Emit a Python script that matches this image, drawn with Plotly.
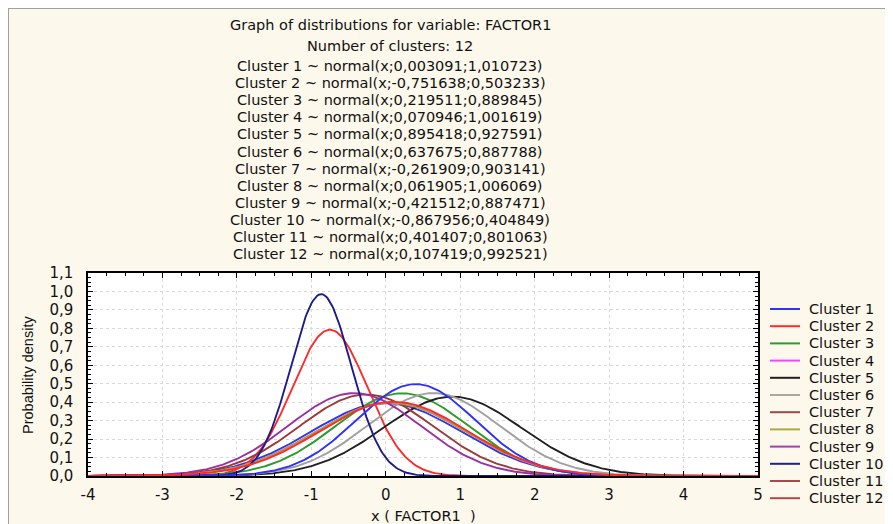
import numpy as np
import plotly.graph_objects as go

# ---- data ----
cluster_names = [f"Cluster {i}" for i in range(1, 13)]
means = [0.003091, -0.751638, 0.219511, 0.070946, 0.895418, 0.637675,
         -0.261909, 0.061905, -0.421512, -0.867956, 0.401407, 0.107419]
sds = [1.010723, 0.503233, 0.889845, 1.001619, 0.927591, 0.887788,
       0.903141, 1.006069, 0.887471, 0.404849, 0.801063, 0.992521]
mean_txt = ["0,003091", "-0,751638", "0,219511", "0,070946", "0,895418", "0,637675",
            "-0,261909", "0,061905", "-0,421512", "-0,867956", "0,401407", "0,107419"]
sd_txt = ["1,010723", "0,503233", "0,889845", "1,001619", "0,927591", "0,887788",
          "0,903141", "1,006069", "0,887471", "0,404849", "0,801063", "0,992521"]
x_ticks = [-4, -3, -2, -1, 0, 1, 2, 3, 4, 5]
x_tick_labels = ["-4", "-3", "-2", "-1", "0", "1", "2", "3", "4", "5"]
y_ticks = [0.0, 0.1, 0.2, 0.3, 0.4, 0.5, 0.6, 0.7, 0.8, 0.9, 1.0, 1.1]
y_tick_labels = ["0,0", "0,1", "0,2", "0,3", "0,4", "0,5", "0,6", "0,7", "0,8", "0,9", "1,0", "1,1"]

# ---- styles ----
legend_colors = ["#3030ff", "#ff2a2a", "#2e9a2e", "#ff40ff", "#202020", "#a8a8a0",
                 "#a04848", "#b0a840", "#a040a8", "#20208c", "#a84848", "#b04848"]
curve_colors = ["#3030ff", "#ff2a2a", "#2e9a2e", "#ff40ff", "#202020", "#a0a0a0",
                "#9a3a3a", "#a8a040", "#9a30a0", "#1c1c88", "#3030ff", "#ff2a2a"]
BG = "#fdf8ec"
TXT = "#111111"
FONT = "DejaVu Sans"

OFF = 8                      # page body margin
W, H = 893 - OFF, 524 - OFF  # figure size
# plot area in page pixels
PL, PR, PT, PB = 88, 758, 273, 476
L, R, T, B = PL - OFF, PR - OFF, PT - OFF, PB - OFF


def px(xp):
    """page x pixel -> paper coordinate"""
    return (xp - OFF - L) / (R - L)


def py(yp):
    """page y pixel -> paper coordinate"""
    return (B - (yp - OFF)) / (B - T)


xs = np.linspace(-4, 5, 451)
fig = go.Figure()
for name, m, s, c in zip(cluster_names, means, sds, curve_colors):
    ys = np.exp(-0.5 * ((xs - m) / s) ** 2) / (s * np.sqrt(2 * np.pi))
    fig.add_trace(go.Scatter(x=xs, y=ys, mode="lines", name=name,
                             line=dict(color=c, width=1.9), showlegend=False,
                             hoverinfo="skip"))

annotations = []
shapes = []

# title block
title_lines = ["Graph of distributions for variable: FACTOR1", "Number of clusters: 12"]
title_y = [25, 46]
for t, yy in zip(title_lines, title_y):
    annotations.append(dict(x=px(390), y=py(yy), xref="paper", yref="paper",
                            text=t, showarrow=False, xanchor="center", yanchor="middle",
                            font=dict(family=FONT, size=14.5, color=TXT)))
for i, (n, mt, st) in enumerate(zip(cluster_names, mean_txt, sd_txt)):
    yy = 66 + i * 17.1
    annotations.append(dict(x=px(390), y=py(yy), xref="paper", yref="paper",
                            text=f"{n} ~ normal(x;{mt};{st})", showarrow=False,
                            xanchor="center", yanchor="middle",
                            font=dict(family=FONT, size=14.5, color=TXT)))

# axis titles
annotations.append(dict(x=px(423), y=py(516), xref="paper", yref="paper",
                        text="x ( FACTOR1  )", showarrow=False, xanchor="center",
                        yanchor="middle", font=dict(family=FONT, size=14.5, color=TXT)))
annotations.append(dict(x=px(28), y=py(375), xref="paper", yref="paper",
                        text="Probability density", showarrow=False, textangle=-90,
                        xanchor="center", yanchor="middle",
                        font=dict(family="Liberation Sans", size=14.5, color=TXT)))

# legend (manual)
for i, (n, c) in enumerate(zip(cluster_names, legend_colors)):
    yy = 309 + i * 17.2
    shapes.append(dict(type="line", xref="paper", yref="paper",
                       x0=px(770), x1=px(800), y0=py(yy), y1=py(yy),
                       line=dict(color=c, width=2)))
    annotations.append(dict(x=px(807), y=py(yy), xref="paper", yref="paper",
                            text=n, showarrow=False, xanchor="left", yanchor="middle",
                            font=dict(family=FONT, size=14.5, color=TXT)))

# grey frame lines along the top and left edges
shapes.append(dict(type="line", xref="paper", yref="paper", x0=px(7), x1=px(900),
                   y0=py(8), y1=py(8), line=dict(color="#a0a0a0", width=2)))
shapes.append(dict(type="line", xref="paper", yref="paper", x0=px(8), x1=px(8),
                   y0=py(8), y1=py(530), line=dict(color="#a0a0a0", width=2)))

axis_common = dict(showline=True, linecolor="black", linewidth=1.5, mirror="allticks",
                   ticks="inside", ticklen=5, tickcolor="black", tickwidth=1,
                   showgrid=True, gridcolor="#d8d8d8", griddash="dot", gridwidth=1,
                   zeroline=False, automargin=False,
                   tickfont=dict(family=FONT, size=15, color=TXT))

fig.update_xaxes(range=[-4, 5], tickvals=x_ticks, ticktext=x_tick_labels,
                 minor=dict(dtick=0.25, ticks="inside", ticklen=3, tickcolor="black",
                            showgrid=False),
                 ticklabelstandoff=4, **axis_common)
fig.update_yaxes(range=[0, 1.1], tickvals=y_ticks, ticktext=y_tick_labels,
                 minor=dict(dtick=0.025, ticks="inside", ticklen=3, tickcolor="black",
                            showgrid=False),
                 ticklabelstandoff=10, **axis_common)

fig.update_layout(width=W, height=H, autosize=False,
                  margin=dict(l=L, r=W - R, t=T, b=H - B, pad=0, autoexpand=False),
                  paper_bgcolor=BG, plot_bgcolor="white",
                  showlegend=False, annotations=annotations, shapes=shapes)

fig.write_html("out.html")
